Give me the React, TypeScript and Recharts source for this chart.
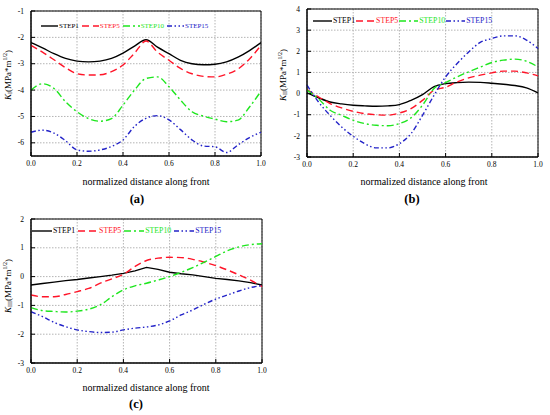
import React from "react";
import { LineChart, Line, XAxis, YAxis, CartesianGrid, Legend, ReferenceArea } from "recharts";

const SERIF = '"Liberation Serif", "Times New Roman", serif';

// normalized position along the crack front
const X = [0, 0.05, 0.1, 0.15, 0.2, 0.25, 0.3, 0.35, 0.4, 0.45, 0.5, 0.55, 0.6, 0.65, 0.7, 0.75, 0.8, 0.85, 0.9, 0.95, 1];
const X_TICKS = [0, 0.2, 0.4, 0.6, 0.8, 1];

// (a) K_I
const KI_TICKS = [-6, -5, -4, -3, -2, -1];
const KI_STEP1 = [-2.2, -2.4, -2.62, -2.8, -2.9, -2.93, -2.9, -2.8, -2.6, -2.33, -2.09, -2.37, -2.62, -2.87, -3.0, -3.04, -3.02, -2.93, -2.75, -2.5, -2.2];
const KI_STEP5 = [-2.3, -2.56, -2.85, -3.15, -3.38, -3.43, -3.42, -3.3, -3.05, -2.6, -2.14, -2.56, -2.87, -3.18, -3.38, -3.48, -3.5, -3.4, -3.2, -2.82, -2.3];
const KI_STEP10 = [-4.0, -3.76, -3.94, -4.44, -4.82, -5.08, -5.18, -5.08, -4.57, -4.0, -3.56, -3.5, -3.87, -4.38, -4.82, -4.99, -5.1, -5.2, -5.14, -4.64, -4.04];
const KI_STEP15 = [-5.6, -5.52, -5.63, -5.92, -6.27, -6.32, -6.27, -6.14, -5.89, -5.38, -5.07, -4.97, -5.13, -5.5, -5.89, -6.12, -6.15, -6.37, -6.08, -5.8, -5.6];

// (b) K_II
const KII_TICKS = [-3, -2, -1, 0, 1, 2, 3, 4];
const KII_STEP1 = [0.03, -0.2, -0.4, -0.49, -0.55, -0.58, -0.6, -0.58, -0.52, -0.32, -0.05, 0.33, 0.47, 0.52, 0.54, 0.53, 0.49, 0.44, 0.38, 0.27, 0.03];
const KII_STEP5 = [0.19, -0.16, -0.47, -0.68, -0.84, -0.95, -1.0, -1.02, -0.92, -0.71, -0.32, 0.16, 0.3, 0.55, 0.74, 0.87, 0.98, 1.06, 1.06, 0.98, 0.84];
const KII_STEP10 = [0.16, -0.25, -0.79, -1.03, -1.26, -1.42, -1.5, -1.52, -1.42, -1.15, -0.55, 0.24, 0.52, 0.79, 1.03, 1.25, 1.47, 1.58, 1.63, 1.53, 1.26];
const KII_STEP15 = [0.4, -0.4, -1.03, -1.58, -2.02, -2.37, -2.57, -2.57, -2.37, -1.9, -1.03, -0.08, 0.79, 1.42, 1.97, 2.42, 2.6, 2.73, 2.73, 2.53, 2.13];

// (c) K_III
const KIII_TICKS = [-3, -2, -1, 0, 1, 2];
const KIII_STEP1 = [-0.29, -0.24, -0.19, -0.14, -0.1, -0.05, 0.0, 0.05, 0.11, 0.2, 0.32, 0.25, 0.15, 0.1, 0.06, 0.0, -0.06, -0.1, -0.15, -0.21, -0.29];
const KIII_STEP5 = [-0.64, -0.7, -0.7, -0.62, -0.52, -0.41, -0.23, -0.08, 0.08, 0.35, 0.56, 0.64, 0.67, 0.66, 0.6, 0.5, 0.38, 0.23, 0.06, -0.12, -0.35];
const KIII_STEP10 = [-1.08, -1.18, -1.21, -1.23, -1.2, -1.13, -0.98, -0.7, -0.46, -0.32, -0.23, -0.12, 0.0, 0.15, 0.31, 0.5, 0.7, 0.9, 1.03, 1.11, 1.14];
const KIII_STEP15 = [-1.22, -1.39, -1.59, -1.74, -1.85, -1.91, -1.94, -1.93, -1.85, -1.79, -1.75, -1.68, -1.54, -1.33, -1.16, -0.96, -0.78, -0.64, -0.5, -0.38, -0.31];

const SERIES = [
  { key: "step1", name: "STEP1", color: "#000000", dash: undefined as string | undefined },
  { key: "step5", name: "STEP5", color: "#ff1428", dash: "7 4" },
  { key: "step10", name: "STEP10", color: "#1ee61e", dash: "7 3 2 3" },
  { key: "step15", name: "STEP15", color: "#2323c8", dash: "5 2.5 1.5 2.5 1.5 2.5" },
];

function rows(s1: number[], s5: number[], s10: number[], s15: number[]) {
  return X.map((x, i) => ({ x, step1: s1[i], step5: s5[i], step10: s10[i], step15: s15[i] }));
}

function YTitle({ cy, sub }: { cy: number; sub: string }) {
  const cx = 8;
  return (
    <text x={cx} y={cy} transform={`rotate(-90 ${cx} ${cy})`} textAnchor="middle" dominantBaseline="central" fontFamily={SERIF} fontSize={9} fill="#000">
      <tspan fontStyle="italic">K</tspan>
      <tspan fontSize={6} dy={2}>{sub}</tspan>
      <tspan dy={-2}>(MPa*m</tspan>
      <tspan fontSize={6} dy={-3.5}>1/2</tspan>
      <tspan dy={3.5}>)</tspan>
    </text>
  );
}

function LegendRow({ fontSize, sample, gap }: any) {
  return (
    <div style={{ display: "flex", alignItems: "center", fontFamily: SERIF, fontSize, lineHeight: "8px", whiteSpace: "nowrap" }}>
      {SERIES.map((s) => (
        <span key={s.key} style={{ display: "flex", alignItems: "center", marginRight: gap }}>
          <svg width={sample} height={6}>
            <line x1={0} x2={sample} y1={3} y2={3} stroke={s.color} strokeWidth={1.4} strokeDasharray={s.dash} />
          </svg>
          <span style={{ color: s.color, marginLeft: 1 }}>{s.name}</span>
        </span>
      ))}
    </div>
  );
}

type PanelProps = {
  left: number; top: number; height: number;
  margin: { top: number; right: number };
  yWidth: number; xHeight: number;
  data: ReturnType<typeof rows>;
  yDomain: [number, number]; yTicks: number[]; sub: string; labelCy: number;
  legend: { left: number; top: number; fontSize: number; sample: number; gap: number };
  linearFirst?: boolean;
  title: { x: number; y: number }; tag: { x: number; y: number; text: string };
};

function Panel(p: PanelProps) {
  const tick = { fontSize: 7.5, fill: "#000", fontFamily: SERIF };
  return (
    <>
      <div style={{ position: "absolute", left: p.left, top: p.top }}>
        <LineChart width={275} height={p.height} data={p.data} margin={{ top: p.margin.top, right: p.margin.right, bottom: 0, left: 0 }}>
          <CartesianGrid stroke="#b4b4b4" strokeDasharray="1.5 1.5" />
          <XAxis dataKey="x" type="number" domain={[0, 1]} ticks={X_TICKS} tickFormatter={(v: number) => v.toFixed(1)}
            height={p.xHeight} tick={tick} tickSize={-4} tickMargin={9} stroke="#000" interval={0} />
          <YAxis type="number" domain={p.yDomain} ticks={p.yTicks} allowDataOverflow width={p.yWidth}
            tick={tick} tickSize={-4} tickMargin={11} stroke="#000" interval={0}
            label={{ content: () => <YTitle cy={p.labelCy} sub={p.sub} /> }} />
          <ReferenceArea x1={0} x2={1} y1={p.yDomain[0]} y2={p.yDomain[1]} fill="none" stroke="#000" strokeWidth={1} />
          <Legend layout="vertical" align="center" verticalAlign="middle"
            wrapperStyle={{ left: p.legend.left, top: p.legend.top, width: "auto", height: "auto" }}
            content={() => <LegendRow fontSize={p.legend.fontSize} sample={p.legend.sample} gap={p.legend.gap} />} />
          {SERIES.map((s, i) => (
            <Line key={s.key} dataKey={s.key} name={s.name} type={p.linearFirst && i === 0 ? "linear" : "monotone"}
              stroke={s.color} strokeWidth={1.4} strokeDasharray={s.dash} dot={false} isAnimationActive={false} />
          ))}
        </LineChart>
      </div>
      <div style={{ position: "absolute", left: p.title.x, top: p.title.y - 7, transform: "translateX(-50%)", fontFamily: SERIF, fontSize: 10, lineHeight: "14px", whiteSpace: "nowrap" }}>
        normalized distance along front
      </div>
      <div style={{ position: "absolute", left: p.tag.x, top: p.tag.y - 8, transform: "translateX(-50%)", fontFamily: SERIF, fontSize: 12.5, fontWeight: "bold", lineHeight: "16px" }}>
        {p.tag.text}
      </div>
    </>
  );
}

export default function App() {
  return (
    <div style={{ position: "absolute", left: 0, top: 0, width: 550, height: 415, background: "#fff", overflow: "hidden" }}>
      <Panel left={0} top={0} height={175} margin={{ top: 11, right: 14 }} yWidth={31} xHeight={19}
        data={rows(KI_STEP1, KI_STEP5, KI_STEP10, KI_STEP15)} yDomain={[-6.5, -1]} yTicks={KI_TICKS} sub="I" labelCy={75}
        legend={{ left: 41, top: 22, fontSize: 7, sample: 17, gap: 3 }}
        title={{ x: 146, y: 182 }} tag={{ x: 137, y: 199, text: "(a)" }} />
      <Panel left={275} top={0} height={175} margin={{ top: 9, right: 12 }} yWidth={32} xHeight={18}
        data={rows(KII_STEP1, KII_STEP5, KII_STEP10, KII_STEP15)} yDomain={[-3, 4]} yTicks={KII_TICKS} sub="II" labelCy={75}
        legend={{ left: 38, top: 17, fontSize: 7.8, sample: 19, gap: 1 }}
        title={{ x: 424, y: 182 }} tag={{ x: 412, y: 199, text: "(b)" }} />
      <Panel left={0} top={205} height={175} margin={{ top: 14, right: 13 }} yWidth={31} xHeight={17}
        data={rows(KIII_STEP1, KIII_STEP5, KIII_STEP10, KIII_STEP15)} yDomain={[-3, 2]} yTicks={KIII_TICKS} sub="III" labelCy={81}
        legend={{ left: 32, top: 22, fontSize: 7.8, sample: 20, gap: 3 }} linearFirst
        title={{ x: 146, y: 388 }} tag={{ x: 136, y: 404, text: "(c)" }} />
    </div>
  );
}
